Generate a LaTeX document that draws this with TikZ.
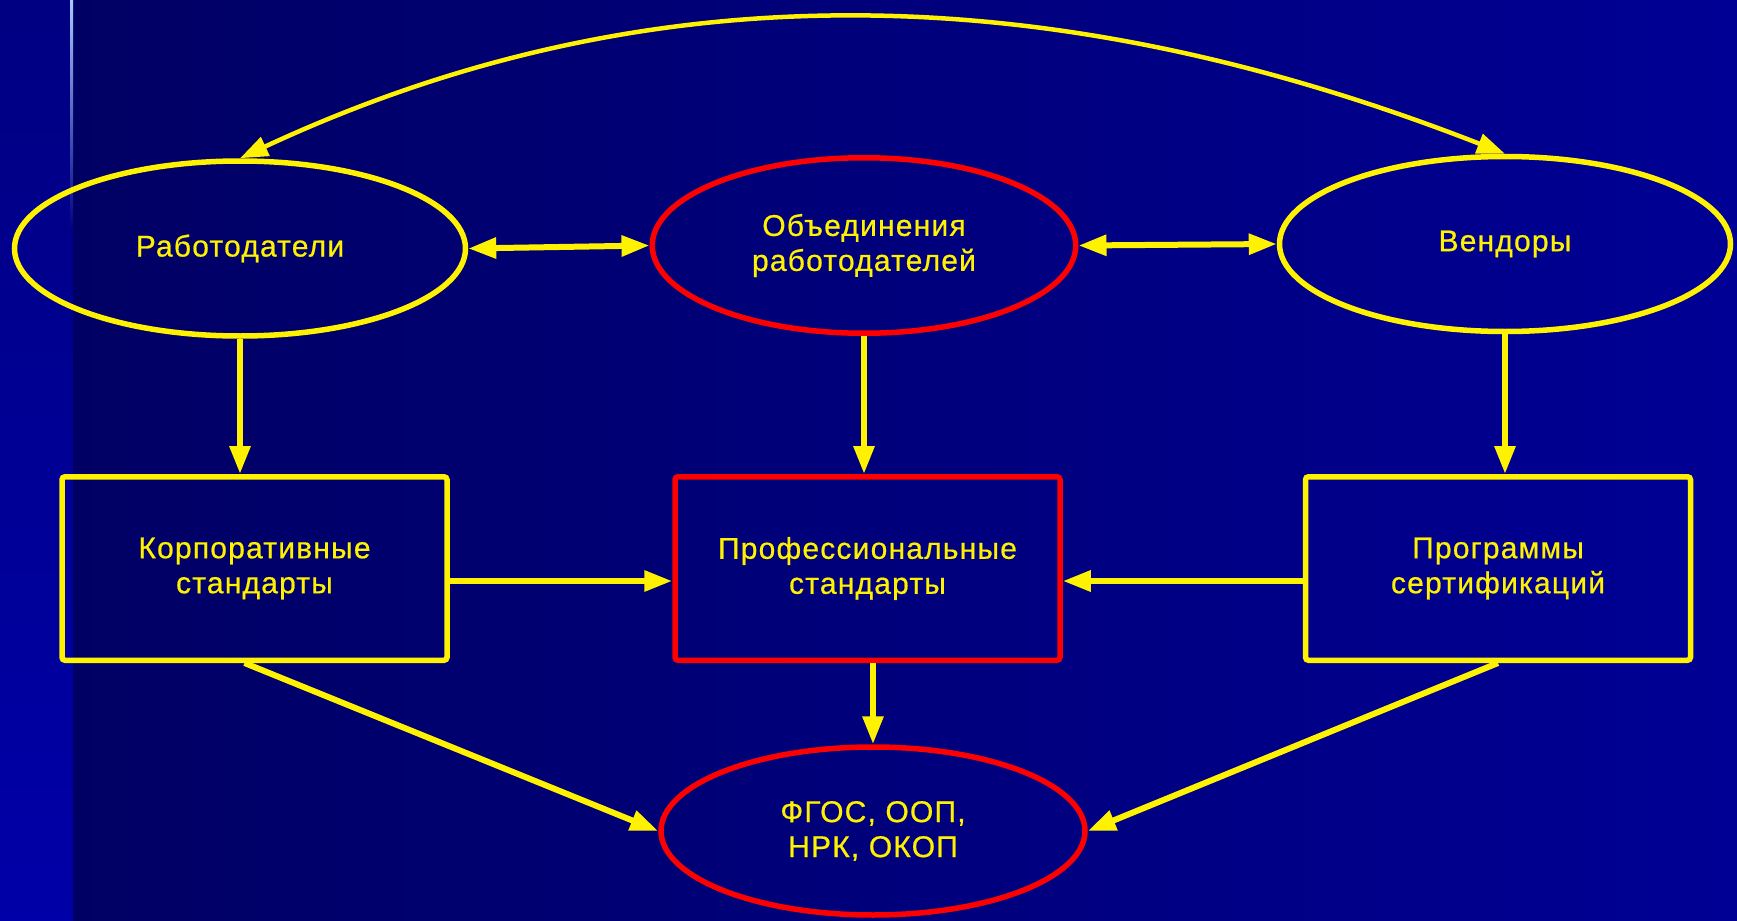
\documentclass[tikz,border=0pt]{standalone}
\usepackage{fontspec}
\newfontfamily\rotulo{Liberation Sans}[LetterSpace=4.0, FakeBold=0.6]
\usetikzlibrary{shapes.geometric, arrows.meta}
\definecolor{franjaarriba}{RGB}{0,0,130}
\definecolor{franjaabajo}{RGB}{0,0,168}
\definecolor{fondoizq}{RGB}{0,0,100}
\definecolor{fondoder}{RGB}{0,0,148}
\definecolor{lineaclara}{RGB}{170,200,255}
\definecolor{lineamedia}{RGB}{20,90,255}
\tikzstyle{texto} = [text=yellow, font=\rotulo\fontsize{15}{17.5}\selectfont, align=center, inner sep=0pt]
\tikzstyle{ovalo} = [texto, ellipse, draw=yellow, line width=2.75pt]
\tikzstyle{ovalorojo} = [ovalo, draw=red]
\tikzstyle{caja} = [texto, rectangle, draw=yellow, line width=2.75pt, rounded corners=1.5pt, minimum width=192.5pt, minimum height=91.75pt]
\tikzstyle{cajaroja} = [caja, draw=red]
\tikzstyle{flecha} = [draw=yellow, line width=3pt, -{Triangle[length=14pt,width=10pt]}]
\tikzstyle{dobleflecha} = [flecha, {Triangle[length=14pt,width=10pt]}-{Triangle[length=14pt,width=10pt]}]
\begin{document}
\begin{tikzpicture}[x=0.5pt, y=-0.5pt]
	\useasboundingbox (0,0) rectangle (1737,921);
	% fondo
	\shade[top color=franjaarriba, bottom color=franjaabajo] (0,0) rectangle (74,921);
	\shade[left color=fondoizq, right color=fondoder] (73,0) rectangle (1737,921);
	\shade[top color=lineaclara, middle color=lineamedia, bottom color=franjaarriba] (70,0) rectangle (73,230);
	% nodos
	\node[ovalo, minimum width=225.5pt, minimum height=87.5pt] (empleadores) at (240,248.5) {Работодатели};
	\node[ovalorojo, minimum width=211.75pt, minimum height=87.75pt] (asociaciones) at (864,245.5) {Объединения\\работодателей};
	\node[ovalo, minimum width=225.5pt, minimum height=87.5pt] (vendedores) at (1505,244) {Вендоры};
	\node[caja] (corporativos) at (254.5,568.5) {Корпоративные\\стандарты};
	\node[cajaroja] (profesionales) at (867.5,568.5) {Профессиональные\\стандарты};
	\node[caja] (certificaciones) at (1498,568.5) {Программы\\сертификаций};
	\node[ovalorojo, minimum width=212pt, minimum height=84pt] (fgos) at (873,831) {ФГОС, ООП,\\НРК, ОКОП};
	% flechas
	\coordinate (salidacorp) at ([yshift=-6.25pt]corporativos.east);
	\coordinate (salidacert) at ([yshift=-6.25pt]certificaciones.west);
	\draw[flecha] (empleadores.south) -- (empleadores.south |- corporativos.north);
	\draw[flecha] (asociaciones.south) -- (asociaciones.south |- profesionales.north);
	\draw[flecha] (vendedores.south) -- (vendedores.south |- certificaciones.north);
	\draw[flecha] (fgos.north |- profesionales.south) -- (fgos.north);
	\draw[flecha] (salidacorp) -- (salidacorp -| profesionales.west);
	\draw[flecha] (salidacert) -- (salidacert -| profesionales.east);
	\draw[flecha] ([xshift=-5pt]corporativos.south) -- (fgos.west);
	\draw[flecha] (certificaciones.south) -- (fgos.east);
	\draw[dobleflecha] (empleadores.east) -- (asociaciones.west);
	\draw[dobleflecha] (asociaciones.east) -- (vendedores.west);
	\draw[dobleflecha, line width=2.25pt] (empleadores.north) .. controls (640,-28) and (1040,-28) .. (vendedores.north);
\end{tikzpicture}
\end{document}
